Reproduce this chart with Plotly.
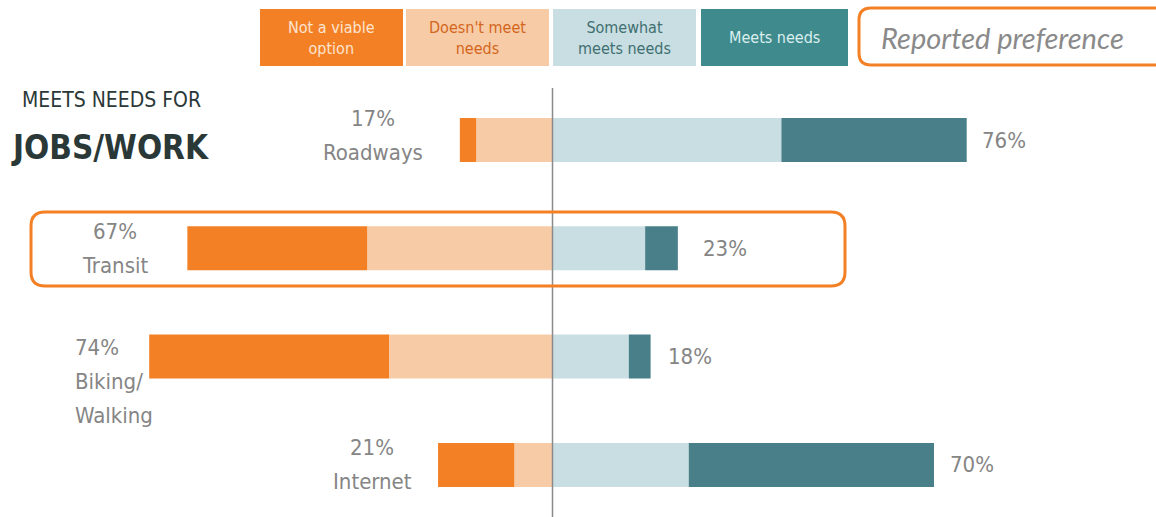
import plotly.graph_objects as go

categories = ["Roadways", "Transit", "Biking/<br>Walking", "Internet"]
not_viable = [3, 33, 44, 14]
doesnt_meet = [14, 34, 30, 7]
somewhat = [42, 17, 14, 25]
meets = [34, 6, 4, 45]
legend_labels = ["Not a viable<br>option", "Doesn't meet<br>needs", "Somewhat<br>meets needs", "Meets needs"]

C_NV = "#F38025"
C_DM = "#F8CBA7"
C_SM = "#C8DEE2"
C_MN = "#487F89"
C_MN_LEG = "#3F8A8C"
FONT = "Liberation Sans Narrow, DejaVu Sans Condensed, sans-serif"
GRAY = "#858585"

W, H = 1156, 517
CENTER_PX = 552.5
PX_PER = 5.45
BAR_Y0 = 140.0
BAR_STEP = 108.3

fig = go.Figure()
fig.add_bar(y=categories, x=[-v for v in doesnt_meet], orientation="h", marker=dict(color=C_DM, line=dict(width=0)), width=0.406)
fig.add_bar(y=categories, x=[-v for v in not_viable], orientation="h", marker=dict(color=C_NV, line=dict(width=0)), width=0.406)
fig.add_bar(y=categories, x=somewhat, orientation="h", marker=dict(color=C_SM, line=dict(width=0)), width=0.406)
fig.add_bar(y=categories, x=meets, orientation="h", marker=dict(color=C_MN, line=dict(width=0)), width=0.406)

xmin = -CENTER_PX / PX_PER
xmax = (W - CENTER_PX) / PX_PER
ytop = -BAR_Y0 / BAR_STEP
ybot = (H - BAR_Y0) / BAR_STEP

fig.update_layout(
    width=W, height=H, barmode="relative", showlegend=False,
    margin=dict(l=0, r=0, t=0, b=0),
    paper_bgcolor="white", plot_bgcolor="white",
    xaxis=dict(range=[xmin, xmax], visible=False, fixedrange=True),
    yaxis=dict(range=[ybot, ytop], visible=False, type="category", categoryorder="array", categoryarray=categories),
    font=dict(family=FONT),
)

# center line
fig.add_shape(type="line", xref="x", yref="paper", x0=0, x1=0, y0=0, y1=1 - 88 / H,
              line=dict(color="#8a8a8a", width=1.5))

# labels
left_tot = [a + b for a, b in zip(not_viable, doesnt_meet)]
right_tot = [a + b for a, b in zip(somewhat, meets)]
left_off = [87, 72, 76, 66]      # px from bar end to label center (or left edge for aligned-left)
left_yshift = [5, 0, -25, 0]
left_align = ["center", "center", "left", "center"]
right_gap = [13, 23, 15, 14]
LINE = 34
for i, cat in enumerate(categories):
    lines = [f"{left_tot[i]}%"] + cat.split("<br>")
    n = len(lines)
    for k, ln in enumerate(lines):
        ys = left_yshift[i] + (n - 1) / 2 * LINE - k * LINE
        fig.add_annotation(x=-left_tot[i], y=cat, xref="x", yref="y", text=ln, showarrow=False,
                           xanchor=left_align[i], yanchor="middle", xshift=-left_off[i], yshift=ys,
                           font=dict(size=22, color=GRAY, family=FONT))
    fig.add_annotation(x=right_tot[i], y=cat, xref="x", yref="y",
                       text=f"{right_tot[i]}%", showarrow=False,
                       xanchor="left", yanchor="middle", xshift=right_gap[i],
                       font=dict(size=22, color=GRAY, family=FONT))


def rounded_rect(x0, y0, x1, y1, r):
    def p(x, y):
        return f"{x / W:.5f},{1 - y / H:.5f}"
    return (f"M {p(x0 + r, y0)} L {p(x1 - r, y0)} Q {p(x1, y0)} {p(x1, y0 + r)} "
            f"L {p(x1, y1 - r)} Q {p(x1, y1)} {p(x1 - r, y1)} L {p(x0 + r, y1)} "
            f"Q {p(x0, y1)} {p(x0, y1 - r)} L {p(x0, y0 + r)} Q {p(x0, y0)} {p(x0 + r, y0)} Z")

fig.add_shape(type="path", xref="paper", yref="paper", path=rounded_rect(31, 212, 845, 286, 14),
              line=dict(color=C_NV, width=3), fillcolor="rgba(0,0,0,0)")

# Reported preference box
fig.add_shape(type="path", xref="paper", yref="paper", path=rounded_rect(859, 8, 1175, 65, 12),
              line=dict(color=C_NV, width=3), fillcolor="white")
fig.add_annotation(x=879 / W, y=1 - 38 / H, xref="paper", yref="paper", text="<i>Reported preference</i>",
                   showarrow=False, xanchor="left", yanchor="middle",
                   font=dict(size=29, color="#8a8a8a", family="Lato, sans-serif"))

# legend boxes
leg_boxes = [(260, 403), (406, 549), (553, 696), (701, 848)]
leg_fill = [C_NV, C_DM, C_SM, C_MN_LEG]
leg_text = ["#FDE4D0", "#D2661C", "#3F6F70", "#DCEFEF"]
for (x0, x1), fc, tc, lab in zip(leg_boxes, leg_fill, leg_text, legend_labels):
    fig.add_shape(type="rect", xref="paper", yref="paper", x0=x0 / W, x1=x1 / W, y0=1 - 66 / H, y1=1 - 9 / H,
                  line=dict(width=0), fillcolor=fc)
    fig.add_annotation(x=(x0 + x1) / 2 / W, y=1 - 38 / H, xref="paper", yref="paper", text=lab,
                       showarrow=False, xanchor="center", yanchor="middle", align="center",
                       font=dict(size=16, color=tc, family=FONT))

# title
fig.add_annotation(x=20 / W, y=1 - 100 / H, xref="paper", yref="paper", text="MEETS NEEDS FOR",
                   showarrow=False, xanchor="left", yanchor="middle",
                   font=dict(size=21, color="#2B3838", family=FONT))
fig.add_annotation(x=9 / W, y=1 - 148 / H, xref="paper", yref="paper", text="<b>JOBS/WORK</b>",
                   showarrow=False, xanchor="left", yanchor="middle",
                   font=dict(size=33, color="#2B3838", family=FONT))

fig.write_html("out.html", config={"displayModeBar": False},
               post_script="document.body.style.margin='0';document.body.style.padding='0';")
